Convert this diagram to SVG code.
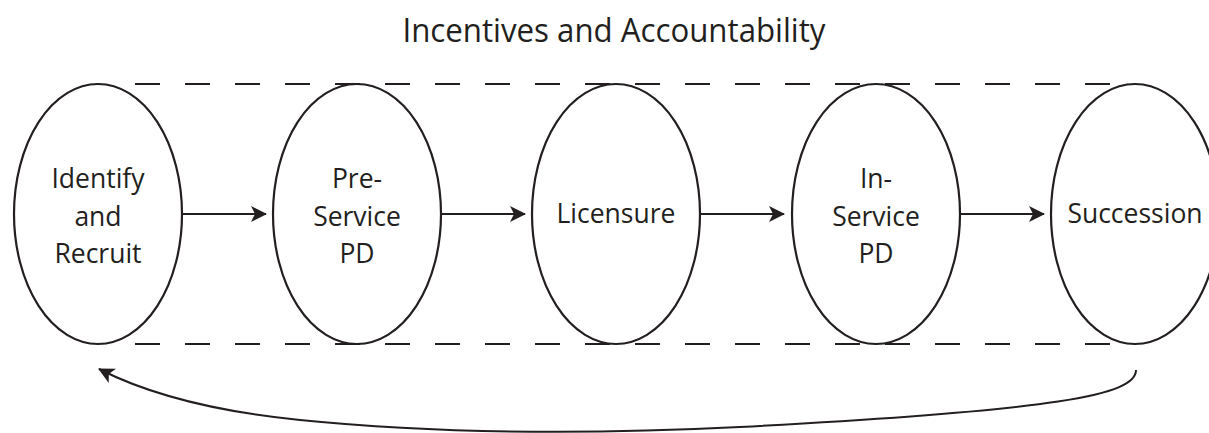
<svg xmlns="http://www.w3.org/2000/svg" width="1209" height="433" viewBox="0 0 1209 433">
<defs>
<style>
.n{fill:#fff;stroke:#231f20;stroke-width:2.2}
.t{font-family:"Open Sans","Liberation Sans",sans-serif;font-size:26.5px;fill:#231f20;text-anchor:middle}
.dash{stroke:#231f20;stroke-width:2.2;stroke-dasharray:25 25;fill:none}
.c{stroke:#231f20;stroke-width:2;fill:none}
</style>
<marker id="ah" markerWidth="16" markerHeight="16" viewBox="0 0 16 16" refX="15" refY="8" orient="auto" markerUnits="userSpaceOnUse">
<path d="M0,0 L16,8 L0,16 L4,8 Z" fill="#231f20"/>
</marker>
</defs>
<rect width="1209" height="433" fill="#fff"/>
<text x="614" y="42" textLength="423" lengthAdjust="spacingAndGlyphs" style="font-family:'Open Sans','Liberation Sans',sans-serif;font-size:33px;fill:#231f20;text-anchor:middle">Incentives and Accountability</text>
<g id="frame">
<line class="dash" x1="135" y1="84" x2="1110" y2="84"/>
<line class="dash" x1="135" y1="344" x2="1110" y2="344"/>
</g>
<g id="n1"><ellipse class="n" cx="98" cy="214" rx="84" ry="130"/>
<text class="t" x="98" y="188">Identify</text><text class="t" x="98" y="226">and</text><text class="t" x="98" y="263">Recruit</text></g>
<g id="n2"><ellipse class="n" cx="357" cy="214" rx="84" ry="130"/>
<text class="t" x="357" y="188">Pre-</text><text class="t" x="357" y="226">Service</text><text class="t" x="357" y="263">PD</text></g>
<g id="n3"><ellipse class="n" cx="616" cy="214" rx="84" ry="130"/>
<text class="t" x="616" y="223">Licensure</text></g>
<g id="n4"><ellipse class="n" cx="876" cy="214" rx="84" ry="130"/>
<text class="t" x="876" y="188">In-</text><text class="t" x="876" y="226">Service</text><text class="t" x="876" y="263">PD</text></g>
<g id="n5"><ellipse class="n" cx="1135" cy="214" rx="84" ry="130"/>
<text class="t" x="1135" y="223">Succession</text></g>
<g id="connectors">
<line class="c" x1="183" y1="214" x2="266" y2="214" marker-end="url(#ah)"/>
<line class="c" x1="442" y1="214" x2="525" y2="214" marker-end="url(#ah)"/>
<line class="c" x1="701" y1="214" x2="784" y2="214" marker-end="url(#ah)"/>
<line class="c" x1="961" y1="214" x2="1044" y2="214" marker-end="url(#ah)"/>
<path class="c" stroke-width="2.5" d="M1136,370 C1136,395 1060,410 740,427 C560,436 420,432 300,420 C220,412 150,395 99,369" marker-end="url(#ah)"/>
</g>
</svg>
